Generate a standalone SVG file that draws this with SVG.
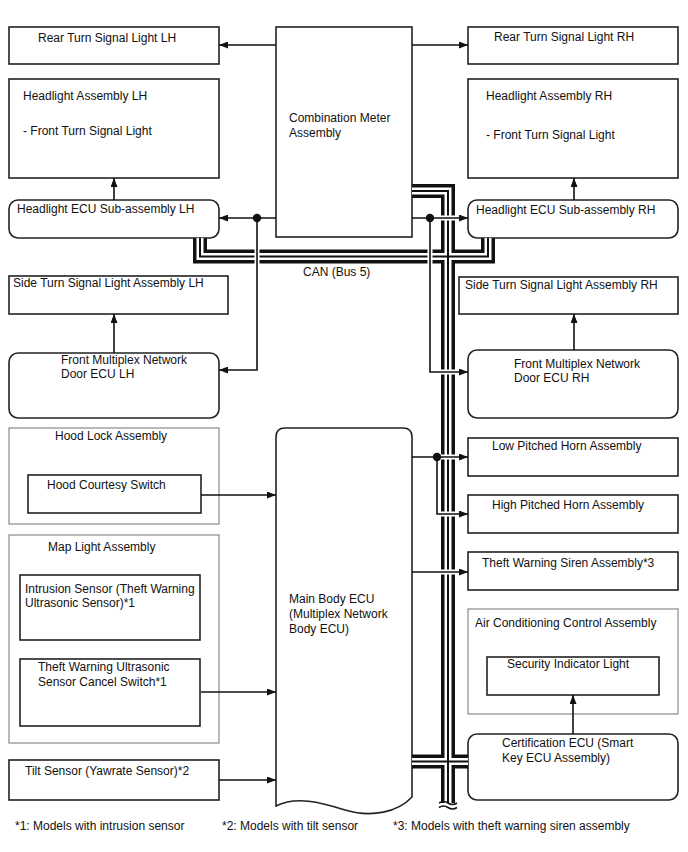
<svg xmlns="http://www.w3.org/2000/svg" width="688" height="852" viewBox="0 0 688 852">
<defs>
<marker id="ah" markerUnits="userSpaceOnUse" markerWidth="9" markerHeight="7" refX="9" refY="3.5" orient="auto">
<path d="M0,0 L9,3.5 L0,7 z" fill="#111"/>
</marker>
<style>
text{font-family:"Liberation Sans",Arial,sans-serif;font-size:12px;fill:#111}
.box{fill:#fff;stroke:#222;stroke-width:1.6}
.grp{fill:#fff;stroke:#8a8a8a;stroke-width:1.2}
.ln{fill:none;stroke:#111;stroke-width:1.6}
.arr{fill:none;stroke:#111;stroke-width:1.6;marker-end:url(#ah)}
.b1{fill:none;stroke:#111;stroke-width:14}
.b2{fill:none;stroke:#fff;stroke-width:7}
.b3{fill:none;stroke:#111;stroke-width:2}
.halo{fill:none;stroke:#fff;stroke-width:5}
</style>
</defs>
<rect width="688" height="852" fill="#fff"/>

<g id="rear-lh"><rect class="box" x="9" y="27" width="210" height="37"/><text x="38" y="42">Rear Turn Signal Light LH</text></g>
<g id="combination-meter"><rect class="box" x="276" y="27" width="136" height="210"/><text x="289" y="122">Combination Meter</text><text x="289" y="137">Assembly</text></g>
<g id="rear-rh"><rect class="box" x="468" y="27" width="210" height="37"/><text x="494" y="41">Rear Turn Signal Light RH</text></g>
<g id="headlight-lh"><rect class="box" x="9" y="79" width="210" height="99"/><text x="23" y="100">Headlight Assembly LH</text><text x="23" y="135">- Front Turn Signal Light</text></g>
<g id="headlight-rh"><rect class="box" x="468" y="79" width="210" height="99"/><text x="486" y="100">Headlight Assembly RH</text><text x="486" y="139">- Front Turn Signal Light</text></g>
<g id="hl-ecu-lh"><rect class="box" x="9" y="200" width="210" height="38" rx="9"/><text x="17" y="213">Headlight ECU Sub-assembly LH</text></g>
<g id="hl-ecu-rh"><rect class="box" x="468" y="200" width="210" height="38" rx="9"/><text x="476" y="214">Headlight ECU Sub-assembly RH</text></g>
<g id="side-lh"><rect class="box" x="9" y="276" width="219" height="38"/><text x="13" y="287">Side Turn Signal Light Assembly LH</text></g>
<g id="side-rh"><rect class="box" x="459" y="277" width="219" height="37"/><text x="465" y="289">Side Turn Signal Light Assembly RH</text></g>
<g id="door-lh"><rect class="box" x="9" y="353" width="210" height="65" rx="9"/><text x="61" y="364">Front Multiplex Network</text><text x="61" y="378">Door ECU LH</text></g>
<g id="door-rh"><rect class="box" x="468" y="350" width="210" height="68" rx="9"/><text x="514" y="368">Front Multiplex Network</text><text x="514" y="382">Door ECU RH</text></g>
<g id="hood-lock"><rect class="grp" x="9" y="428" width="210" height="96"/><text x="55" y="440">Hood Lock Assembly</text></g>
<g id="hood-switch"><rect class="box" x="28" y="475" width="173" height="38"/><text x="47" y="489">Hood Courtesy Switch</text></g>
<g id="map-light"><rect class="grp" x="9" y="535" width="210" height="208"/><text x="48" y="551">Map Light Assembly</text></g>
<g id="intrusion-sensor"><rect class="box" x="20" y="575" width="180" height="65"/><text x="25" y="593">Intrusion Sensor (Theft Warning</text><text x="25" y="607">Ultrasonic Sensor)*1</text></g>
<g id="cancel-switch"><rect class="box" x="20" y="659" width="180" height="67"/><text x="38" y="671">Theft Warning Ultrasonic</text><text x="38" y="686">Sensor Cancel Switch*1</text></g>
<g id="tilt-sensor"><rect class="box" x="9" y="760" width="210" height="40"/><text x="25" y="775">Tilt Sensor (Yawrate Sensor)*2</text></g>
<g id="main-body-ecu"><path class="box" d="M276,437 Q276,428 285,428 H403 Q412,428 412,437 V797 C398,812 372,818 345,810 C320,802 296,796 276,806 Z"/><text x="289" y="603">Main Body ECU</text><text x="289" y="618">(Multiplex Network</text><text x="289" y="633">Body ECU)</text></g>
<g id="low-horn"><rect class="box" x="468" y="438" width="210" height="38"/><text x="492" y="450">Low Pitched Horn Assembly</text></g>
<g id="high-horn"><rect class="box" x="468" y="495" width="210" height="38"/><text x="492" y="509">High Pitched Horn Assembly</text></g>
<g id="siren"><rect class="box" x="468" y="552" width="210" height="38"/><text x="482" y="567">Theft Warning Siren Assembly*3</text></g>
<g id="ac-control"><rect class="grp" x="468" y="609" width="210" height="105"/><text x="475" y="627">Air Conditioning Control Assembly</text></g>
<g id="security-light"><rect class="box" x="487" y="657" width="172" height="38"/><text x="507" y="668">Security Indicator Light</text></g>
<g id="certification-ecu"><rect class="box" x="468" y="734" width="210" height="66" rx="9"/><text x="502" y="747">Certification ECU (Smart</text><text x="502" y="762">Key ECU Assembly)</text></g>

<g id="connectors">
<g id="can-bus">
<path class="b1" d="M412,191 H448 V803 M200,238 V256.5 H448 M488,238 V256.5 H448 M412,761.5 H468"/>
<path class="b2" d="M412,191 H448 V803 M200,238 V256.5 H448 M488,238 V256.5 H448 M412,761.5 H468"/>
<path class="b3" d="M412,191 H448 V803 M200,238 V256.5 H448 M488,238 V256.5 H448 M412,761.5 H468"/>
<path d="M439,803 q4.5,-3 9,0 t9,0 M439,807.5 q4.5,-3 9,0 t9,0" fill="none" stroke="#111" stroke-width="1.6"/>
<text x="303" y="276">CAN (Bus 5)</text>
</g>
<path class="halo" d="M438,218 H458 M438,372 H458 M438,457 H458 M438,514 H458 M438,572 H458 M257,246 V267 M430,246 V267"/>
<path class="arr" d="M276,45 H219"/>
<path class="arr" d="M412,45 H468"/>
<path class="arr" d="M114,200 V178"/>
<path class="arr" d="M574,200 V178"/>
<path class="arr" d="M276,218 H219"/>
<path class="arr" d="M412,218 H468"/>
<path class="arr" d="M257,218 V370 H219"/>
<path class="arr" d="M430,218 V372 H468"/>
<path class="arr" d="M114,353 V314"/>
<path class="arr" d="M574,350 V314"/>
<path class="arr" d="M201,495 H276"/>
<path class="arr" d="M201,692 H276"/>
<path class="arr" d="M219,780 H276"/>
<path class="arr" d="M412,457 H468"/>
<path class="arr" d="M437,457 V514 H468"/>
<path class="arr" d="M412,572 H468"/>
<path class="arr" d="M573,734 V695"/>
<circle cx="257" cy="218" r="4.2" fill="#111"/>
<circle cx="430" cy="218" r="4.2" fill="#111"/>
<circle cx="437" cy="457" r="4.2" fill="#111"/>
</g>

<g id="footnotes">
<text x="15" y="830">*1: Models with intrusion sensor</text>
<text x="222" y="830">*2: Models with tilt sensor</text>
<text x="393" y="830">*3: Models with theft warning siren assembly</text>
</g>
</svg>
